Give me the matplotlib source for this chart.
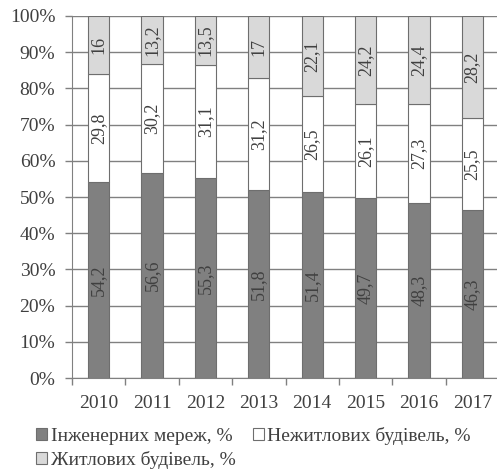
import numpy as np
import matplotlib
matplotlib.use("Agg")
import matplotlib.pyplot as plt
from matplotlib.patches import Patch

years = ["2010", "2011", "2012", "2013", "2014", "2015", "2016", "2017"]
networks = [54.2, 56.6, 55.3, 51.8, 51.4, 49.7, 48.3, 46.3]
nonres = [29.8, 30.2, 31.1, 31.2, 26.5, 26.1, 27.3, 25.5]
resid = [16, 13.2, 13.5, 17, 22.1, 24.2, 24.4, 28.2]
names = ["Інженерних мереж, %", "Нежитлових будівель, %", "Житлових будівель, %"]
colors = ["#808080", "#ffffff", "#d9d9d9"]

plt.rcParams['font.family'] = ['Liberation Serif', 'DejaVu Serif']
txt = "#404040"

fig = plt.figure(figsize=(4.97, 4.69), dpi=100)
ax = fig.add_axes([72 / 497, 1 - 378 / 469, 427 / 497, 362 / 469])

series = np.array([networks, nonres, resid])
totals = series.sum(axis=0)
pct = series / totals * 100
x = np.arange(len(years))
bottom = np.zeros(len(years))
for k in range(3):
    ax.bar(x, pct[k], 0.4, bottom=bottom, color=colors[k], edgecolor="#6e6e6e",
           linewidth=0.8, zorder=3)
    for i in range(len(years)):
        val = series[k][i]
        lab = ("%g" % val).replace(".", ",")
        ax.text(x[i], bottom[i] + pct[k][i] / 2, lab, rotation=90, ha="center",
                va="center", fontsize=13, color=txt, zorder=4)
    bottom += pct[k]

ax.set_xlim(-0.5, len(years) - 0.5)
ax.set_ylim(0, 100)
ax.set_yticks(np.arange(0, 101, 10))
ax.set_yticklabels(["%d%%" % v for v in range(0, 101, 10)], fontsize=14, color=txt)
ax.yaxis.grid(True, color="#808080", linewidth=1.0, zorder=0)
ax.set_xticks(np.arange(-0.5, len(years), 1))
ax.set_xticklabels([])
ax.set_xticks(x, minor=True)
ax.set_xticklabels(years, minor=True, fontsize=14, color=txt)
ax.tick_params(axis="x", which="minor", length=0, pad=12)
ax.tick_params(axis="x", which="major", length=5, color="#808080", width=1)
ax.tick_params(axis="y", length=5, color="#808080", width=1, pad=7)
for s in ["top", "right"]:
    ax.spines[s].set_visible(False)
for s in ["left", "bottom"]:
    ax.spines[s].set_color("#808080")

handles = [Patch(facecolor=colors[k], edgecolor="#6e6e6e", linewidth=0.8) for k in range(3)]
order = [0, 2, 1]
fig.legend([handles[k] for k in order], [names[k] for k in order], loc="upper left",
           bbox_to_anchor=(36 / 497, 1 - 427 / 469),
           ncol=2, frameon=False, fontsize=14, labelcolor=txt, handlelength=0.55,
           handleheight=0.55, handletextpad=0.2, columnspacing=0.9, labelspacing=0.3,
           borderaxespad=0, borderpad=0)

fig.savefig("out.png", dpi=100)
